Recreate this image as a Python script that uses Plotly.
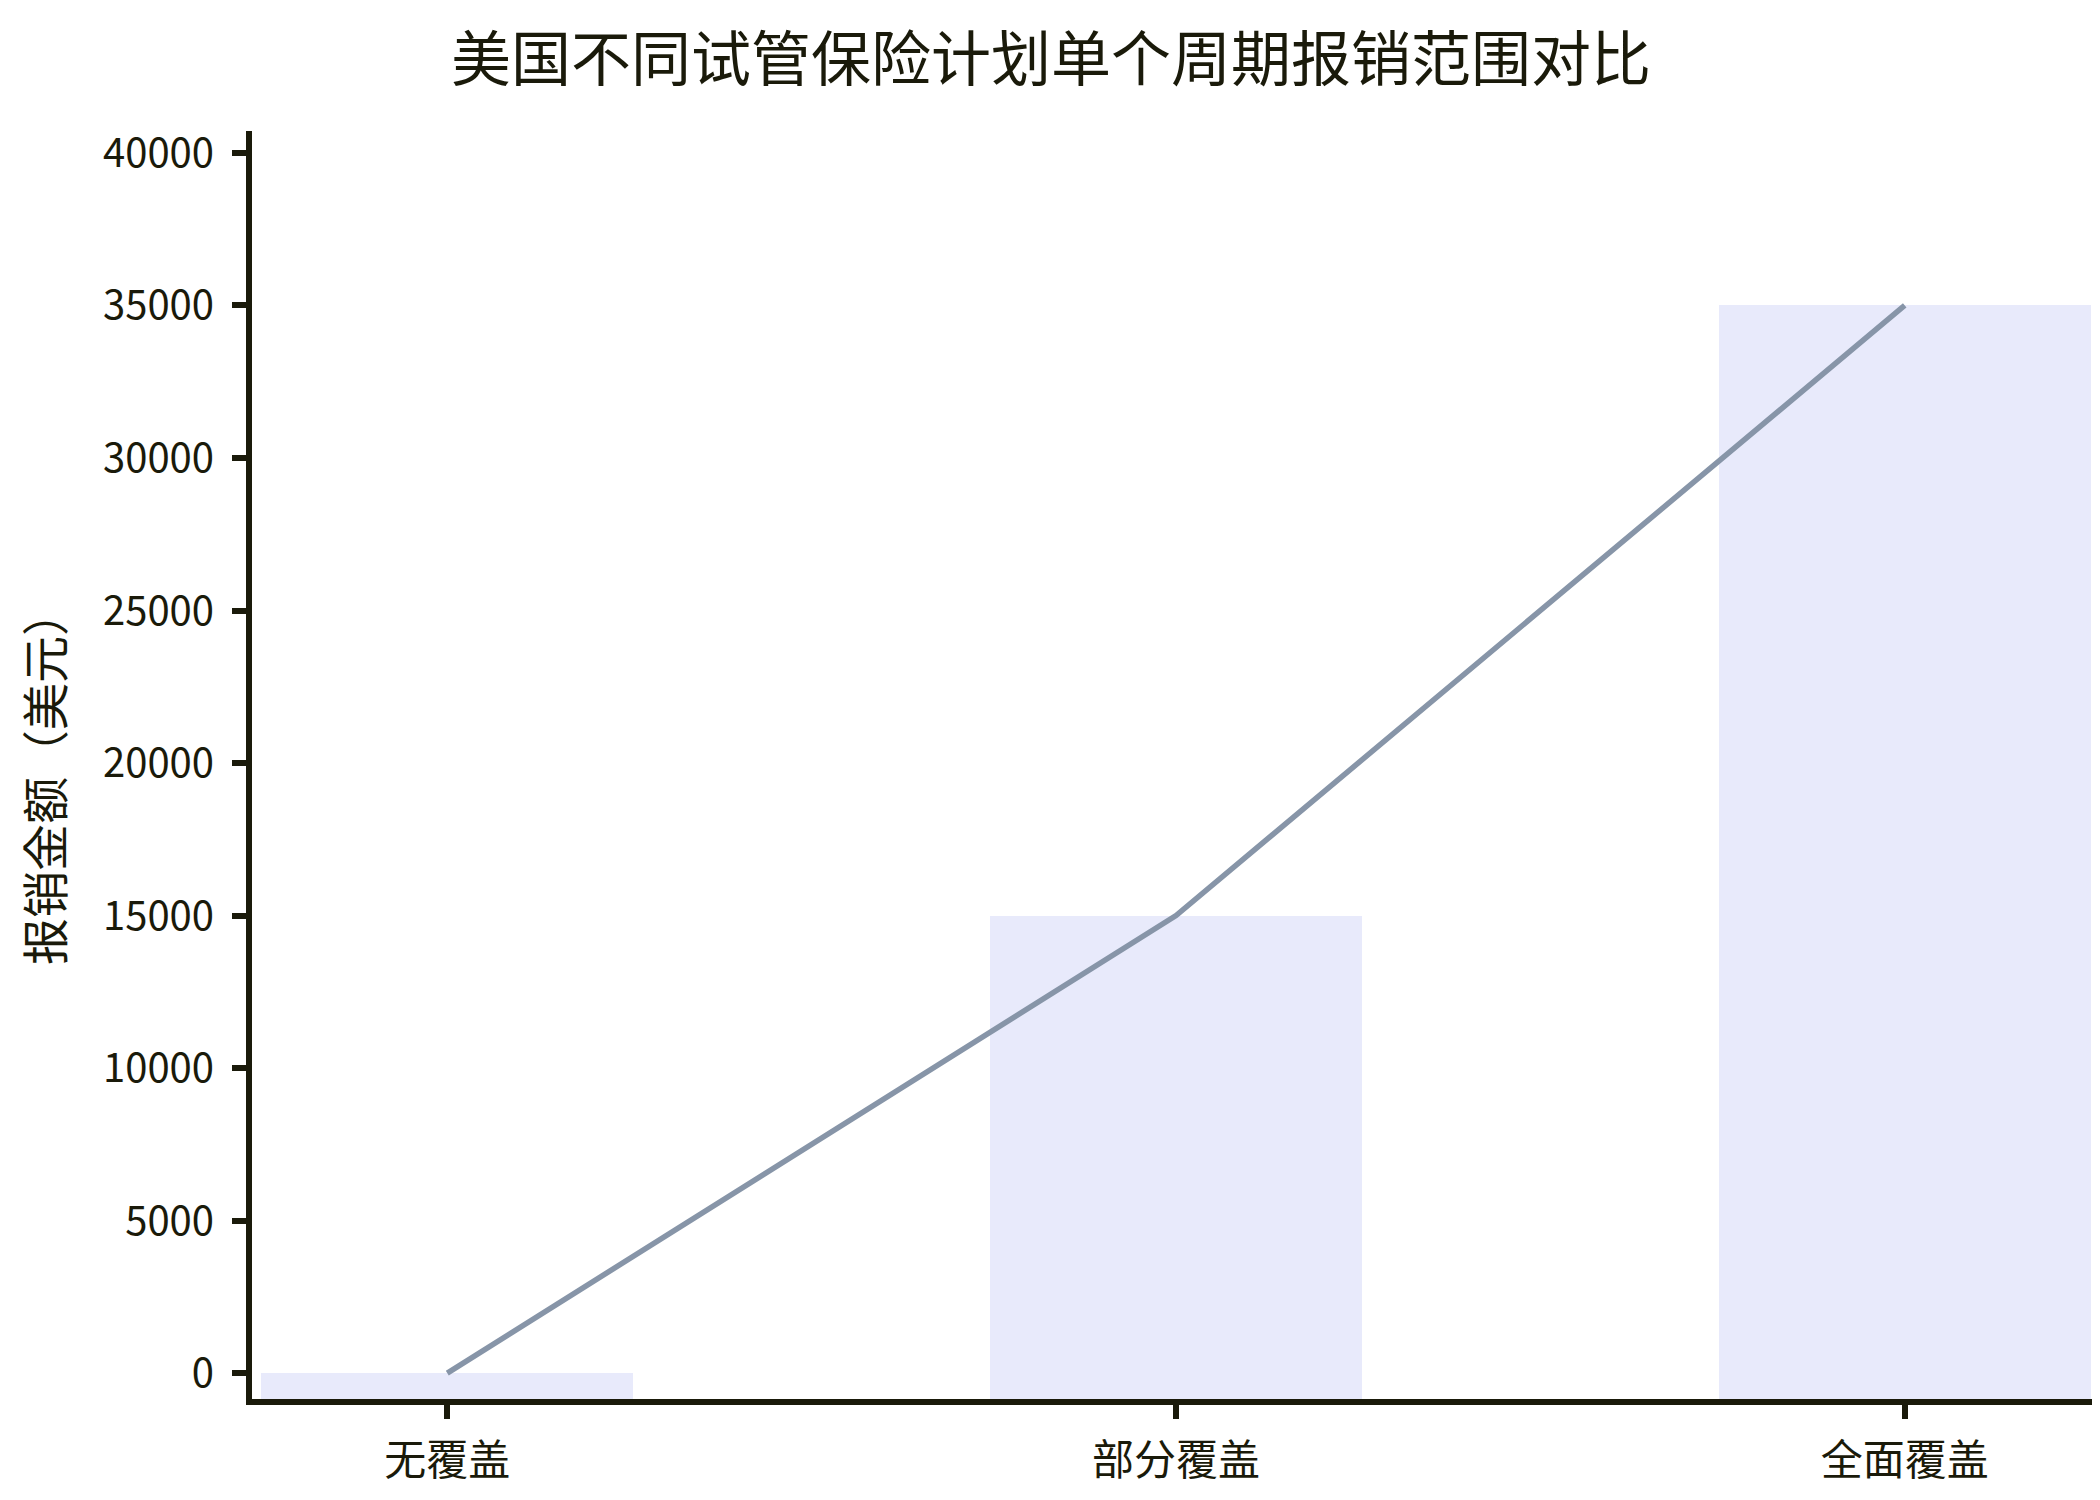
import plotly.graph_objects as go

# Data
categories = ["无覆盖", "部分覆盖", "全面覆盖"]
reimbursement = [0, 15000, 35000]
y_tick_values = [0, 5000, 10000, 15000, 20000, 25000, 30000, 35000, 40000]

title_text = "美国不同试管保险计划单个周期报销范围对比"
y_title = "报销金额（美元）"

FONT = "Noto Sans CJK SC"
INK = "#1a1a0a"
Y_MIN, Y_MAX = -850, 40720

fig = go.Figure()
fig.add_trace(go.Bar(
    x=categories,
    y=[v - Y_MIN for v in reimbursement],
    base=Y_MIN,
    width=0.51,
    marker=dict(color="#e8eafb", line=dict(width=0)),
    showlegend=False,
))
fig.add_trace(go.Scatter(
    x=categories,
    y=reimbursement,
    mode="lines",
    line=dict(color="#8795a8", width=5.5),
    showlegend=False,
))

fig.add_annotation(
    text=y_title,
    xref="paper", yref="paper",
    x=-0.1136, y=0.4905,
    xanchor="center", yanchor="middle",
    textangle=-90, showarrow=False,
    font=dict(family="Noto Sans CJK KR", size=47, color=INK),
)

fig.update_layout(
    width=2100,
    height=1500,
    margin=dict(l=244, r=8, t=123, b=109, autoexpand=False),
    paper_bgcolor="white",
    plot_bgcolor="white",
    font=dict(family=FONT, color=INK, size=40),
    title=dict(
        text=title_text,
        font=dict(family=FONT, size=60, color=INK),
        x=0.4967, xref="container", xanchor="center",
        y=1 - 52 / 1500, yref="container", yanchor="middle",
    ),
    xaxis=dict(
        type="category",
        range=[-0.268, 2.268],
        showline=True, linecolor=INK, linewidth=6,
        ticks="outside", ticklen=14, tickwidth=6, tickcolor=INK,
        tickfont=dict(family=FONT, size=42, color=INK),
        ticklabelstandoff=6,
        showgrid=False, zeroline=False,
    ),
    yaxis=dict(
        range=[Y_MIN, Y_MAX],
        tickvals=y_tick_values,
        tickformat="d",
        showline=True, linecolor=INK, linewidth=6,
        ticks="outside", ticklen=14, tickwidth=6, tickcolor=INK,
        tickfont=dict(family=FONT, size=40, color=INK),
        ticklabelstandoff=10,
        showgrid=False, zeroline=False,
    ),
    bargap=0,
)

fig.write_html("out.html")
